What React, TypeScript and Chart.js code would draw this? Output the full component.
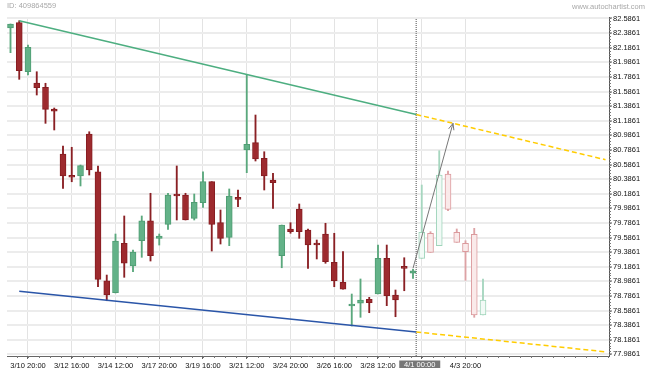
import React, { useEffect, useRef } from "react";
import { Chart, registerables } from "chart.js";

Chart.register(...registerables);

// Candle index (one step per bar on the time axis)
const candleIndex = [
  0, 1, 2, 3, 4, 5, 6, 7, 8, 9, 10, 11, 12, 13, 14, 15, 16, 17, 18, 19,
  20, 21, 22, 23, 24, 25, 26, 27, 28, 29, 30, 31, 32, 33, 34, 35, 36, 37, 38, 39,
  40, 41, 42, 43, 44, 45, 46, 47, 48, 49, 50, 51, 52, 53, 54,
];
const opens = [
  82.456, 82.529, 81.857, 81.703, 81.644, 81.346, 80.73, 80.424, 80.429, 81.004,
  80.487, 78.994, 78.83, 79.507, 79.196, 79.542, 79.816, 79.575, 79.767, 80.168,
  80.168, 79.849, 80.063, 80.351, 79.789, 79.589, 80.131, 80.785, 80.885, 80.671,
  80.374, 79.337, 79.703, 79.977, 79.689, 79.497, 79.634, 79.246, 78.972, 78.648,
  78.685, 78.74, 78.812, 79.301, 78.798, 79.186, 79.096, 79.301, 79.644, 79.474,
  80.456, 79.657, 79.507, 79.63, 78.524,
];
const highs = [
  82.511, 82.556, 82.223, 81.857, 81.699, 81.36, 80.84, 80.822, 80.579, 81.035,
  80.566, 79.072, 79.634, 79.881, 79.415, 79.881, 80.192, 79.634, 80.192, 80.566,
  80.192, 80.182, 80.487, 80.351, 79.963, 80.251, 80.237, 81.812, 81.264, 80.761,
  80.466, 79.757, 79.789, 80.045, 79.703, 79.552, 79.781, 79.644, 79.392, 78.812,
  79.018, 78.767, 79.483, 79.483, 78.867, 79.309, 79.151, 80.305, 79.666, 80.775,
  80.497, 79.703, 79.542, 79.712, 79.018,
];
const lows = [
  82.118, 81.753, 81.812, 81.538, 81.15, 81.059, 80.26, 80.35, 80.292, 80.442,
  78.912, 78.72, 78.826, 79.041, 79.118, 79.315, 79.264, 79.483, 79.698, 79.826,
  79.826, 79.826, 79.999, 79.401, 79.497, 79.474, 80.008, 80.474, 80.634, 80.237,
  79.986, 79.172, 79.644, 79.575, 79.164, 79.292, 79.233, 78.912, 78.877, 78.374,
  78.493, 78.556, 78.812, 78.652, 78.501, 78.857, 79.027, 79.301, 79.383, 79.474,
  79.953, 79.52, 79.0, 78.493, 78.524,
];
const closes = [
  82.511, 81.871, 82.192, 81.638, 81.342, 81.315, 80.429, 80.411, 80.57, 80.511,
  79.013, 78.798, 79.538, 79.233, 79.388, 79.816, 79.337, 79.607, 80.168, 80.155,
  79.826, 80.068, 80.351, 79.767, 79.575, 80.155, 80.109, 80.863, 80.661, 80.429,
  80.337, 79.757, 79.666, 79.666, 79.483, 79.483, 79.255, 78.994, 78.877, 78.675,
  78.73, 78.693, 79.301, 78.789, 78.73, 79.164, 79.131, 79.657, 79.383, 80.442,
  79.972, 79.52, 79.392, 78.524, 78.73,
];
const projectedFromIndex = 47;

// Time axis labels
const xTickIndex = [2, 7, 12, 17, 22, 27, 32, 37, 42, 47, 52];
const xTickLabels = [
  "3/10 20:00", "3/12 16:00", "3/14 12:00", "3/17 20:00", "3/19 16:00",
  "3/21 12:00", "3/24 20:00", "3/26 16:00", "3/28 12:00", "", "4/3 20:00",
];
const patternEndIndex = 46.37;
const patternEndLabel = "4/1 00:00";

// Price axis labels
const yTickLabels = [
  "77.9861", "78.1861", "78.3861", "78.5861", "78.7861", "78.9861", "79.1861", "79.3861",
  "79.5861", "79.7861", "79.9861", "80.1861", "80.3861", "80.5861", "80.7861", "80.9861",
  "81.1861", "81.3861", "81.5861", "81.7861", "81.9861", "82.1861", "82.3861", "82.5861",
];

// Pattern lines
const resistanceX = [1, 46.37];
const resistanceY = [82.556, 81.271];
const resistanceProjX = [46.37, 68.0];
const resistanceProjY = [81.271, 80.652];
const supportX = [1, 46.37];
const supportY = [78.849, 78.292];
const supportProjX = [46.37, 68.0];
const supportProjY = [78.292, 78.02];
const forecastX = [46, 50.57];
const forecastY = [79.164, 81.15];

const FONT = "'Liberation Sans', Arial, sans-serif";

const pts = (xs: number[], ys: number[]) => xs.map((x, k) => ({ x, y: ys[k] }));

export default function App() {
  const ref = useRef<HTMLCanvasElement>(null);

  useEffect(() => {
    const canvas = ref.current!;
    const up = (i: number) => closes[i] >= opens[i];
    const proj = (i: number) => i >= projectedFromIndex;
    const pick = (i: number, pg: string, pr: string, g: string, r: string) =>
      proj(i) ? (up(i) ? pg : pr) : up(i) ? g : r;

    const bodyFill = candleIndex.map((i) => pick(i, "#f2faf6", "#faeaea", "#63b288", "#9d2a2e"));
    const bodyBorder = candleIndex.map((i) => pick(i, "#9fd4ba", "#db9a9d", "#4f9d73", "#861d21"));
    const wickColor = candleIndex.map((i) => pick(i, "#a6d6bf", "#dda2a5", "#5aa87d", "#8a2024"));

    const overlay = {
      id: "overlay",
      beforeDatasetsDraw(chart: any) {
        const { ctx, chartArea, scales } = chart;
        const x = scales.x.getPixelForValue(patternEndIndex);
        ctx.save();
        ctx.strokeStyle = "#8a8a8a";
        ctx.lineWidth = 1.5;
        ctx.setLineDash([1, 1]);
        ctx.beginPath();
        ctx.moveTo(x, chartArea.top + 2);
        ctx.lineTo(x, chartArea.bottom);
        ctx.stroke();
        ctx.restore();
      },
      afterDatasetsDraw(chart: any) {
        const { ctx, scales } = chart;
        const x0 = scales.x.getPixelForValue(forecastX[0]);
        const y0 = scales.y.getPixelForValue(forecastY[0]);
        const x1 = scales.x.getPixelForValue(forecastX[1]);
        const y1 = scales.y.getPixelForValue(forecastY[1]);
        const ang = Math.atan2(y1 - y0, x1 - x0);
        const len = 7;
        ctx.save();
        ctx.strokeStyle = "#777";
        ctx.lineWidth = 1;
        ctx.beginPath();
        ctx.moveTo(x1 - len * Math.cos(ang - 0.4), y1 - len * Math.sin(ang - 0.4));
        ctx.lineTo(x1, y1);
        ctx.lineTo(x1 - len * Math.cos(ang + 0.4), y1 - len * Math.sin(ang + 0.4));
        ctx.stroke();
        ctx.restore();
      },
      afterDraw(chart: any) {
        const { ctx, chartArea, scales } = chart;
        ctx.save();
        // minor ticks on price axis
        ctx.strokeStyle = "#777";
        ctx.lineWidth = 1;
        const ys = scales.y;
        const base = parseFloat(yTickLabels[0]);
        for (let k = -1; k < 120; k++) {
          const v = base + k * 0.04;
          if (v < ys.min || v > ys.max) continue;
          const py = Math.round(ys.getPixelForValue(v)) + 0.5;
          ctx.beginPath();
          ctx.moveTo(chartArea.right, py);
          ctx.lineTo(chartArea.right + 2, py);
          ctx.stroke();
        }
        // minor ticks on time axis
        const xs = scales.x;
        for (let k = -2; k < 60; k++) {
          const v = xTickIndex[0] + k * 1.25;
          if (v < xs.min || v > xs.max) continue;
          const px = Math.round(xs.getPixelForValue(v)) + 0.5;
          ctx.beginPath();
          ctx.moveTo(px, chartArea.bottom);
          ctx.lineTo(px, chartArea.bottom + 2);
          ctx.stroke();
        }
        // highlighted pattern end label
        const x = xs.getPixelForValue(patternEndIndex);
        ctx.fillStyle = "#777777";
        ctx.fillRect(x - 17, chartArea.bottom + 4.5, 41, 7.5);
        ctx.fillStyle = "#ffffff";
        ctx.font = `7.5px ${FONT}`;
        ctx.textAlign = "center";
        ctx.textBaseline = "middle";
        ctx.fillText(patternEndLabel, x + 3.5, chartArea.bottom + 8.5);
        ctx.restore();
      },
    };

    const chart = new Chart(canvas, {
      type: "bar",
      data: {
        datasets: [
          {
            type: "line",
            label: "resistance",
            data: pts(resistanceX, resistanceY),
            borderColor: "#4dae80",
            borderWidth: 1.5,
            pointRadius: 0,
            order: 0,
          },
          {
            type: "line",
            label: "resistance projection",
            data: pts(resistanceProjX, resistanceProjY),
            borderColor: "#ffcc00",
            borderWidth: 1.5,
            borderDash: [5, 3],
            pointRadius: 0,
            order: 0,
          },
          {
            type: "line",
            label: "support",
            data: pts(supportX, supportY),
            borderColor: "#2a55a8",
            borderWidth: 1.5,
            pointRadius: 0,
            order: 0,
          },
          {
            type: "line",
            label: "support projection",
            data: pts(supportProjX, supportProjY),
            borderColor: "#ffcc00",
            borderWidth: 1.5,
            borderDash: [5, 3],
            pointRadius: 0,
            order: 0,
          },
          {
            type: "line",
            label: "forecast",
            data: pts(forecastX, forecastY),
            borderColor: "#777777",
            borderWidth: 1,
            pointRadius: 0,
            order: 0,
          },
          {
            type: "bar",
            label: "body",
            data: candleIndex.map((i) => ({ x: i, y: [opens[i], closes[i]] })) as any,
            backgroundColor: bodyFill,
            borderColor: bodyBorder,
            borderWidth: 1,
            borderSkipped: false,
            barThickness: 6,
            minBarLength: 2,
            grouped: false,
            order: 1,
          } as any,
          {
            type: "bar",
            label: "wick",
            data: candleIndex.map((i) => ({ x: i, y: [lows[i], highs[i]] })) as any,
            backgroundColor: wickColor,
            borderWidth: 0,
            barThickness: 1.2,
            grouped: false,
            order: 2,
          } as any,
        ],
      },
      options: {
        animation: false,
        responsive: false,
        events: [],
        layout: { padding: { left: 7, top: 17, right: 0, bottom: 0 } },
        plugins: { legend: { display: false }, tooltip: { enabled: false } },
        scales: {
          x: {
            type: "linear",
            min: -0.4,
            max: 68.4,
            offset: false,
            grid: {
              color: "#e3e3e3",
              lineWidth: 1,
              offset: false,
              drawTicks: true,
              tickLength: 3,
              tickColor: "#666",
              tickWidth: 1,
            },
            border: { display: true, color: "#666", width: 1 },
            afterBuildTicks: (s: any) => {
              s.ticks = xTickIndex.map((v) => ({ value: v }));
            },
            afterFit: (s: any) => {
              s.height = 16;
            },
            ticks: {
              autoSkip: false,
              maxRotation: 0,
              minRotation: 0,
              padding: 2,
              color: "#111",
              font: { family: FONT, size: 7.5 },
              callback: (_v: any, idx: number) => xTickLabels[idx] ?? "",
            },
          } as any,
          y: {
            type: "linear",
            position: "right",
            min: 77.963,
            max: 82.6066,
            grid: {
              color: "#ececec",
              lineWidth: 2,
              drawTicks: true,
              tickLength: 3,
              tickColor: "#555",
              tickWidth: 1,
            },
            border: { display: true, color: "#555", width: 1 },
            afterBuildTicks: (s: any) => {
              s.ticks = yTickLabels.map((t) => ({ value: parseFloat(t) }));
            },
            afterFit: (s: any) => {
              s.width = 41;
            },
            ticks: {
              padding: 1,
              color: "#111",
              font: { family: FONT, size: 7.5 },
              callback: (_v: any, idx: number) => yTickLabels[idx] ?? "",
            },
          } as any,
        },
      },
      plugins: [overlay],
    });

    return () => chart.destroy();
  }, []);

  return (
    <div
      style={{
        position: "fixed",
        left: 0,
        top: 0,
        width: 650,
        height: 372,
        background: "#ffffff",
        overflow: "hidden",
      }}
    >
      <canvas ref={ref} width={650} height={372} style={{ display: "block" }} />
      <div
        style={{
          position: "absolute",
          left: 7,
          top: 2.3,
          font: `7.5px ${FONT}`,
          lineHeight: "7.5px",
          color: "#a8a8a8",
          whiteSpace: "nowrap",
        }}
      >
        ID: 409864559
      </div>
      <div
        style={{
          position: "absolute",
          right: 5,
          top: 3.4,
          font: `7.5px ${FONT}`,
          lineHeight: "7.5px",
          color: "#a8a8a8",
          whiteSpace: "nowrap",
        }}
      >
        www.autochartist.com
      </div>
    </div>
  );
}
